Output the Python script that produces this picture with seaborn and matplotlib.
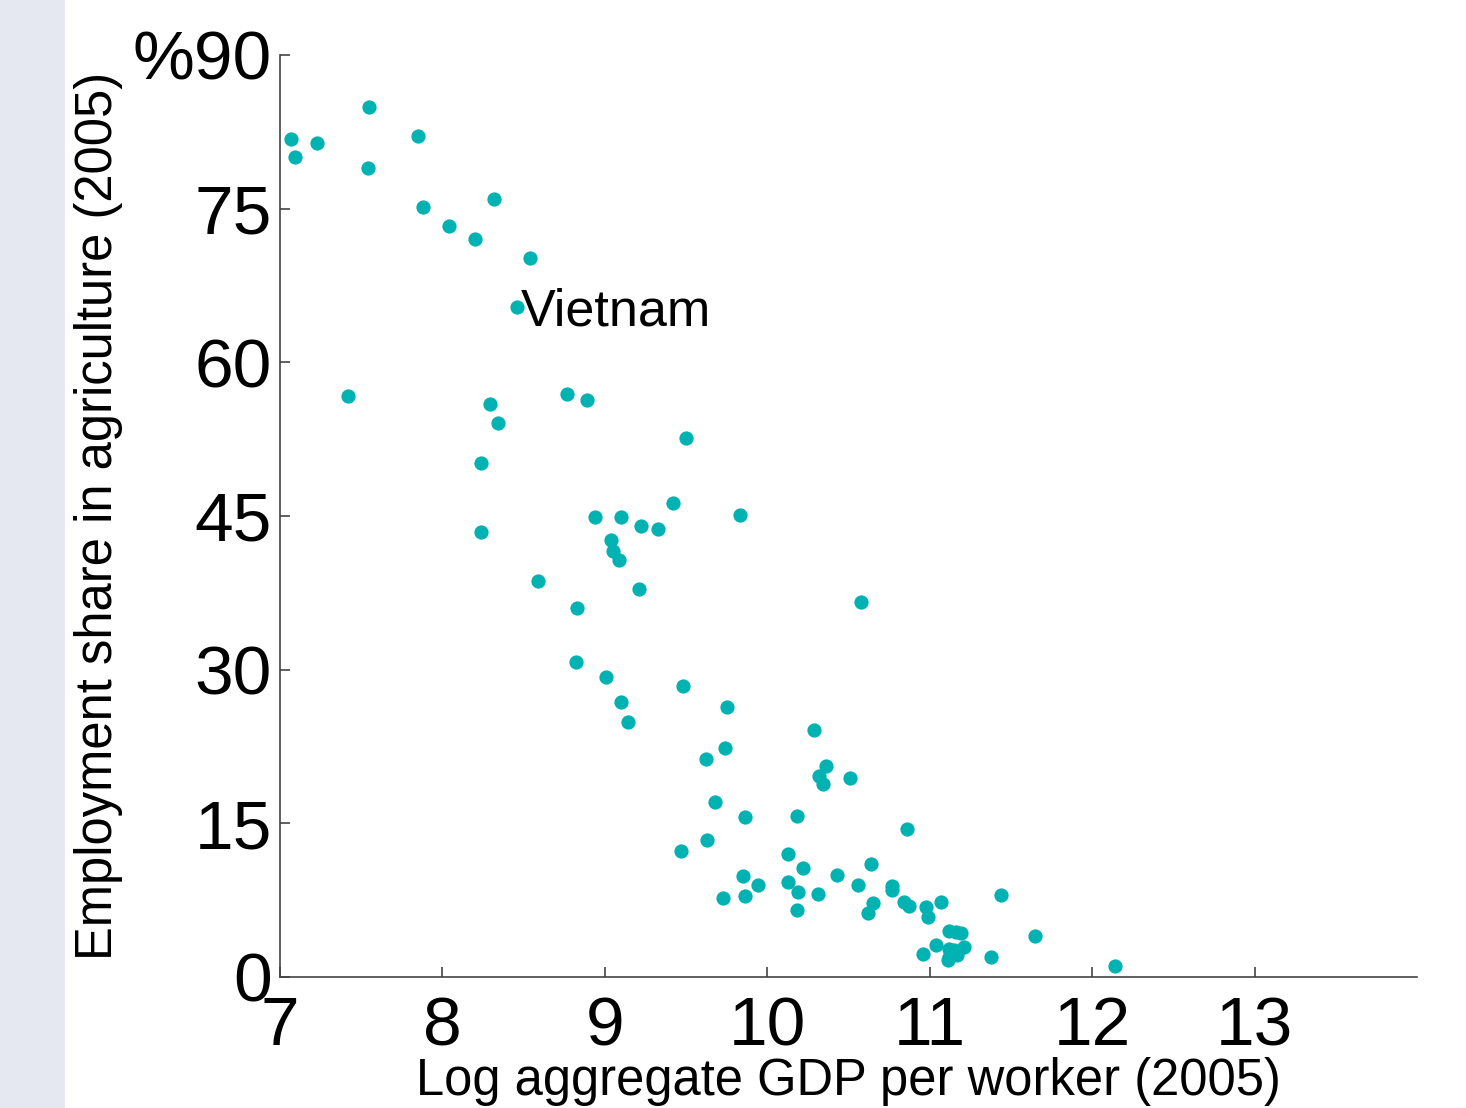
import matplotlib
matplotlib.use("Agg")
import matplotlib.pyplot as plt
import seaborn as sns
import pandas as pd
from matplotlib.patches import Rectangle

# ---- data ----
log_gdp = [7.07, 7.09, 7.23, 7.55, 7.54, 7.85, 7.88, 8.04, 8.32, 8.20,
           8.54, 8.46, 7.42, 8.29, 8.34, 8.77, 8.89, 9.50, 8.24, 8.24,
           8.94, 9.10, 9.04, 9.05, 9.09, 9.22, 9.33, 9.42, 9.83, 8.59,
           9.21, 8.83, 10.58, 8.82, 9.01, 9.48, 9.10, 9.14, 9.75, 10.29,
           9.74, 9.62, 10.36, 10.32, 10.34, 10.51, 9.68, 9.86, 10.18, 10.86,
           9.63, 9.47, 10.13, 10.22, 10.64, 9.85, 9.94, 10.13, 10.43, 10.56,
           10.77, 10.77, 10.19, 10.31, 9.73, 9.86, 11.44, 10.84, 10.87, 10.65,
           10.98, 11.07, 10.18, 10.62, 10.99, 11.65, 11.12, 11.19, 11.04, 11.12,
           11.15, 10.96, 11.12, 11.17, 11.11, 11.38, 12.14, 11.16, 11.21]
agri_share = [81.8, 80.0, 81.4, 84.9, 79.0, 82.1, 75.2, 73.3, 75.9, 72.0,
              70.2, 65.4, 56.7, 55.9, 54.1, 56.9, 56.3, 52.6, 50.2, 43.4,
              44.9, 44.9, 42.7, 41.6, 40.7, 44.0, 43.7, 46.3, 45.1, 38.7,
              37.9, 36.0, 36.6, 30.7, 29.3, 28.4, 26.8, 24.9, 26.4, 24.1,
              22.4, 21.3, 20.6, 19.6, 18.8, 19.4, 17.1, 15.6, 15.7, 14.4,
              13.4, 12.3, 12.0, 10.6, 11.0, 9.9, 9.0, 9.3, 10.0, 9.0,
              8.9, 8.5, 8.3, 8.1, 7.7, 7.9, 8.0, 7.3, 6.9, 7.2,
              6.8, 7.3, 6.5, 6.2, 5.9, 4.0, 4.5, 4.3, 3.1, 2.7,
              2.6, 2.2, 2.0, 2.1, 1.7, 2.0, 1.1, 4.4, 2.9]
highlight_country = "Vietnam"
highlight_x = 8.46
highlight_y = 65.4

x_ticks = [7, 8, 9, 10, 11, 12, 13]
y_ticks = [0, 15, 30, 45, 60, 75, 90]
y_tick_labels = ["0", "15", "30", "45", "60", "75", "%90"]
x_label = "Log aggregate GDP per worker (2005)"
y_label = "Employment share in agriculture (2005)"

df = pd.DataFrame({"gdp": log_gdp, "agri": agri_share})

# ---- style ----
sns.set_theme(style="white")
plt.rcParams["font.family"] = ["Liberation Sans", "DejaVu Sans"]

W, H = 1466, 1108
fig = plt.figure(figsize=(W / 100, H / 100), dpi=100)
fig.patch.set_facecolor("white")
fig.patches.append(Rectangle((0, 0), 65 / W, 1, transform=fig.transFigure,
                             facecolor="#e5e8f0", edgecolor="none", zorder=0))

ax = fig.add_axes([280 / W, 1 - 977 / H, (1417 - 280) / W, (977 - 55) / H])
ax.set_facecolor("white")

sns.scatterplot(data=df, x="gdp", y="agri", ax=ax, color="#00b2b2",
                s=105, linewidth=0, alpha=1.0, zorder=3)

ax.annotate(highlight_country, xy=(highlight_x, highlight_y),
            xytext=(4, -18), textcoords="offset pixels",
            fontsize=37.5, color="black", ha="left", va="baseline")

ax.set_xlim(7, 14)
ax.set_ylim(0, 90)
ax.set_xticks(x_ticks)
ax.set_xticklabels([str(t) for t in x_ticks])
ax.set_yticks(y_ticks)
ax.set_yticklabels(y_tick_labels)

for side in ["top", "right"]:
    ax.spines[side].set_visible(False)
for side in ["left", "bottom"]:
    ax.spines[side].set_color("#444444")
    ax.spines[side].set_linewidth(1.2)

ax.tick_params(axis="both", which="major", bottom=True, left=True,
               direction="in", length=7.2, width=1.2,
               color="#444444", labelsize=50, labelcolor="black")
ax.tick_params(axis="x", pad=13)
ax.tick_params(axis="y", pad=6)

ax.set_xlabel(x_label, fontsize=36.5, color="black", labelpad=-1.5)
ax.set_ylabel(y_label, fontsize=36.5, color="black", labelpad=7)

fig.savefig("out.png", dpi=100, facecolor=fig.get_facecolor())
